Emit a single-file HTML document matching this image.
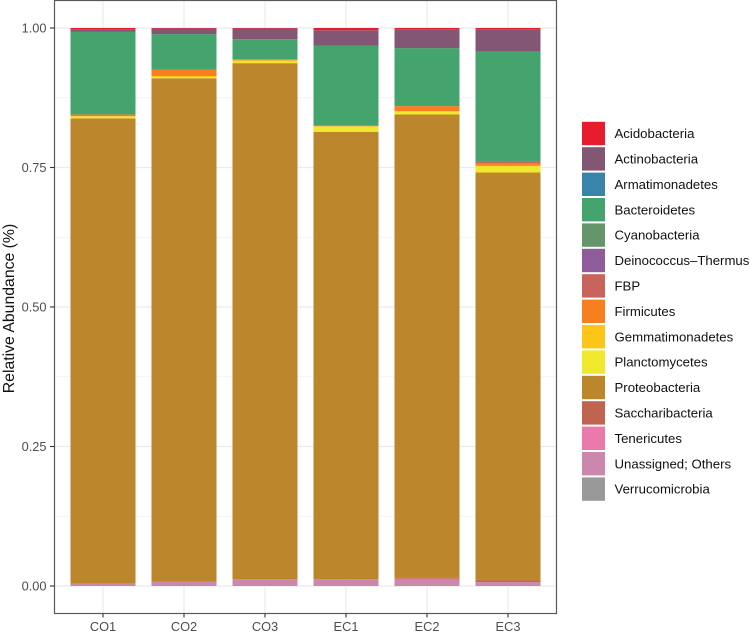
<!DOCTYPE html>
<html lang="en">
<head>
<meta charset="utf-8">
<title>Relative Abundance</title>
<style>
html,body{margin:0;padding:0;background:#fff;}
svg{display:block;font-family:"Liberation Sans",Arial,sans-serif;}
</style>
</head>
<body>
<svg id="chart" xmlns="http://www.w3.org/2000/svg" width="750" height="634" viewBox="0 0 750 634"></svg>
<script>
const categories = ['CO1','CO2','CO3','EC1','EC2','EC3'];
const taxa = ['Acidobacteria','Actinobacteria','Armatimonadetes','Bacteroidetes','Cyanobacteria','Deinococcus\u2013Thermus','FBP','Firmicutes','Gemmatimonadetes','Planctomycetes','Proteobacteria','Saccharibacteria','Tenericutes','Unassigned; Others','Verrucomicrobia'];
const taxaColors = ['#e71d2d','#835674','#3a83aa','#45a46d','#65966b','#8e5c9a','#c8645c','#f87f20','#fdc516','#f0e82c','#bc862c','#c06450','#ea7aac','#cc88ac','#999999'];
const acidobacteria = [0.002,0.001,0.001,0.004,0.002,0.002];
const actinobacteria = [0.005,0.010,0.019,0.028,0.034,0.040];
const armatimonadetes = [0,0,0,0,0,0];
const bacteroidetes = [0.148,0.064,0.036,0.143,0.104,0.198];
const cyanobacteria = [0,0,0,0,0,0];
const deinococcus = [0,0,0,0,0,0];
const fbp = [0,0,0,0,0,0.002];
const firmicutes = [0.003,0.011,0.002,0.001,0.009,0.005];
const gemmatimonadetes = [0.001,0.002,0.001,0.001,0.001,0.001];
const planctomycetes = [0.003,0.002,0.004,0.009,0.005,0.011];
const proteobacteria = [0.834,0.902,0.925,0.802,0.830,0.731];
const saccharibacteria = [0,0,0,0,0.002,0.003];
const tenericutes = [0,0,0,0,0,0];
const unassigned = [0.004,0.008,0.012,0.012,0.013,0.007];
const verrucomicrobia = [0,0,0,0,0,0];
const seriesValues = [acidobacteria,actinobacteria,armatimonadetes,bacteroidetes,cyanobacteria,deinococcus,fbp,firmicutes,gemmatimonadetes,planctomycetes,proteobacteria,saccharibacteria,tenericutes,unassigned,verrucomicrobia];
const yTicks = [0,0.25,0.5,0.75,1];
const yTickLabels = ['0.00','0.25','0.50','0.75','1.00'];
const yMinorTicks = [0.125,0.375,0.625,0.875];

const svg = document.getElementById('chart');
const NS = 'http://www.w3.org/2000/svg';
const panel = {left:54.5,right:556.5,top:0.5,bottom:613.5};
const y0px = 586, y1px = 28;
const firstX = 103, stepX = 81, barW = 65;
function xScale(i){ return firstX + stepX * i; }
function yScale(v){ return y0px + (y1px - y0px) * v; }
function make(tag, attrs, parent){
  const el = document.createElementNS(NS, tag);
  for (const k in attrs) el.setAttribute(k, attrs[k]);
  (parent || svg).appendChild(el);
  return el;
}

const bg = make('rect',{x:panel.left,y:panel.top,width:panel.right-panel.left,height:panel.bottom-panel.top,fill:'#fff'});



const grid = make('g',{});


yMinorTicks.forEach(function(t){
  const l = make('line',{x1:panel.left,x2:panel.right,y1:yScale(t),y2:yScale(t),stroke:'#f0f0f0','stroke-width':0.7},grid);
  
  
});
yTicks.forEach(function(t){
  const l = make('line',{x1:panel.left,x2:panel.right,y1:yScale(t),y2:yScale(t),stroke:'#ebebeb','stroke-width':1.2},grid);
  
  
});
categories.forEach(function(c,i){
  const l = make('line',{x1:xScale(i),x2:xScale(i),y1:panel.top,y2:panel.bottom,stroke:'#ebebeb','stroke-width':1.2},grid);
  
  
});

const bars = make('g',{});


categories.forEach(function(c,i){
  let cum = 0;
  for (let s = seriesValues.length - 1; s >= 0; s--) {
    const v = seriesValues[s][i];
    if (v <= 0) continue;
    const yb = yScale(cum), yt = yScale(cum + v);
    const r = make('rect',{x:xScale(i)-barW/2,y:yt,width:barW,height:yb-yt,fill:taxaColors[s]},bars);
    
    
    cum += v;
  }
});

const border = make('rect',{x:panel.left,y:panel.top,width:panel.right-panel.left,height:panel.bottom-panel.top,fill:'none',stroke:'#5a5a5a','stroke-width':1.2});



yTicks.forEach(function(t,i){
  const m = make('line',{x1:50,x2:panel.left,y1:yScale(t),y2:yScale(t),stroke:'#333','stroke-width':1.1});
  
  
  const tx = make('text',{x:46.5,y:yScale(t)+4.5,'text-anchor':'end','font-size':12.8,fill:'#4d4d4d'});
  tx.textContent = yTickLabels[i];
  
  
});
categories.forEach(function(c,i){
  const m = make('line',{x1:xScale(i),x2:xScale(i),y1:panel.bottom,y2:panel.bottom+4,stroke:'#333','stroke-width':1.1});
  
  
  const tx = make('text',{x:xScale(i),y:631,'text-anchor':'middle','font-size':12.8,fill:'#4d4d4d'});
  tx.textContent = c;
  
  
});

const yTitle = make('text',{x:0,y:0,transform:'translate(14,308.5) rotate(-90)','text-anchor':'middle','font-size':15.8,fill:'#111'});
yTitle.textContent = 'Relative Abundance (%)';



const legend = make('g',{});


taxa.forEach(function(name,i){
  const cy = 133.5 + 25.4 * i;
  const entry = make('g',{},legend);
  
  
  const k = make('rect',{x:582,y:cy-11.7,width:23,height:23.4,fill:taxaColors[i]},entry);
  
  
  const t = make('text',{x:614.5,y:cy+4.6,'font-size':13.2,fill:'#111'},entry);
  t.textContent = name;
  
  
});
</script>
</body>
</html>
